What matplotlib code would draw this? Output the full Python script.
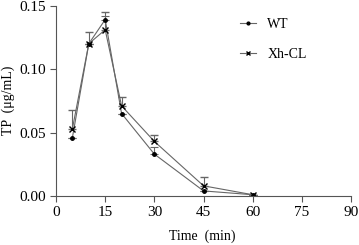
import matplotlib
matplotlib.use("Agg")
import matplotlib.pyplot as plt
import numpy as np

time = [5, 10, 15, 20, 30, 45, 60]
wt = [0.046, 0.120, 0.139, 0.065, 0.033, 0.004, 0.001]
wt_err = [0.0, 0.0, 0.003, 0.0, 0.006, 0.0, 0.0]
xh = [0.053, 0.120, 0.131, 0.071, 0.043, 0.008, 0.001]
xh_err = [0.015, 0.009, 0.014, 0.007, 0.005, 0.007, 0.0]

xticks = [0, 15, 30, 45, 60, 75, 90]
yticks = [0.00, 0.05, 0.10, 0.15]

plt.rcParams['font.family'] = ['Liberation Serif', 'DejaVu Serif']
fig = plt.figure(figsize=(3.59, 2.45), dpi=100)
ax = fig.add_axes([0.156, 0.2, 0.822, 0.777])

line_c = '#666666'
ax.errorbar(time, wt, yerr=[np.zeros(len(wt)), wt_err], color=line_c, lw=0.8,
            marker='o', ms=2.5, mfc='black', mec='black', ecolor=line_c,
            elinewidth=0.8, capsize=3, capthick=0.8, label='WT')
ax.errorbar(time, xh, yerr=[np.zeros(len(xh)), xh_err], color=line_c, lw=0.8,
            marker='x', ms=4, mec='black', mew=1.0, ecolor=line_c,
            elinewidth=0.8, capsize=3, capthick=0.8, label='Xh-CL')

ax.set_xlim(0, 90)
ax.set_ylim(0, 0.15)
ax.set_xticks(xticks)
ax.set_yticks(yticks)
ax.set_yticklabels([f"{v:.2f}" for v in yticks])
ax.spines['top'].set_visible(False)
ax.spines['right'].set_visible(False)
for s in ['left', 'bottom']:
    ax.spines[s].set_color('#555555')
    ax.spines[s].set_linewidth(0.8)
ax.tick_params(direction='out', length=4, width=0.8, color='#555555', labelsize=11)
ax.set_xlabel('Time  (min)', fontsize=10)
ax.set_ylabel('TP  (μg/mL)', fontsize=10)
ax.yaxis.set_label_coords(-0.163, 0.505)
ax.xaxis.set_label_coords(0.495, -0.21)
ax.xaxis.label.set_va('center')
ax.yaxis.label.set_va('center')

handles, labels = ax.get_legend_handles_labels()
handles = [h[0] for h in handles]
ax.legend(handles, labels, loc='upper left', bbox_to_anchor=(0.58, 1.0), frameon=False,
          fontsize=10, handlelength=1.2, labelspacing=1.2, handletextpad=0.8,
          markerscale=0.8)

fig.savefig('out.png', dpi=100)
